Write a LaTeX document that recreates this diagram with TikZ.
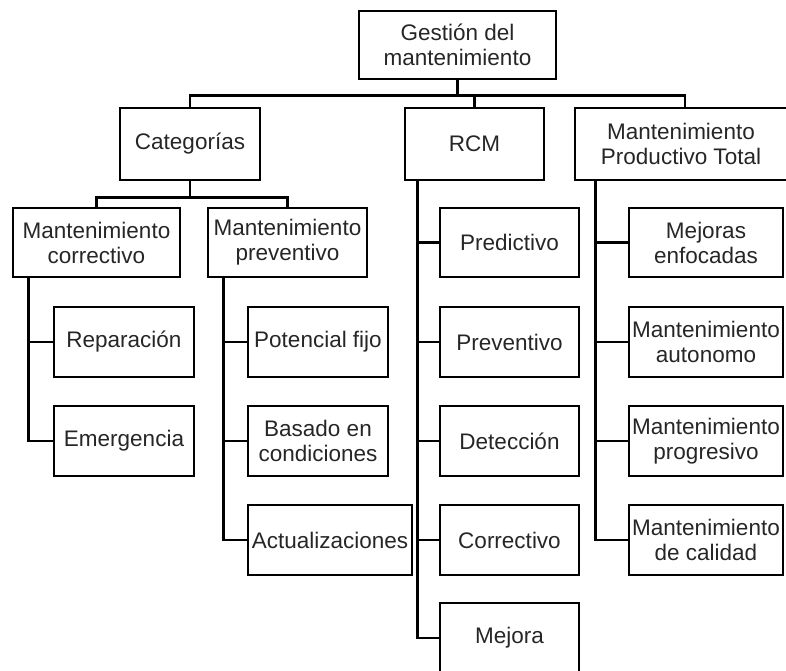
\documentclass[tikz,border=0pt]{standalone}
\usepackage{fontspec}
\setmainfont{Liberation Sans}
\begin{document}
\begin{tikzpicture}[x=1pt,y=-1pt,
  box/.style={draw=black, line width=2.8pt, inner sep=0pt, align=center,
    font=\fontsize{22.5}{25}\selectfont, text=black!85},
  link/.style={draw=black, line width=2.8pt, line cap=rect}]
\useasboundingbox (0,0) rectangle (786,671);
% root
\node[box, minimum width=197, minimum height=68] (top) at (457.5,45) {Gestión del\\mantenimiento};
% second level
\node[box, minimum width=140, minimum height=72] (cat) at (190,144) {Categorías};
\node[box, minimum width=139, minimum height=72] (rcm) at (474.5,144) {RCM};
\node[box, minimum width=212, minimum height=72] (mpt) at (681,144) {Mantenimiento\\Productivo Total};
% categories
\node[box, minimum width=167, minimum height=69] (mc) at (96.5,242.5) {Mantenimiento\\correctivo};
\node[box, minimum width=159, minimum height=69] (mp) at (287.5,242.5) {Mantenimiento\\preventivo};
\node[box, minimum width=140, minimum height=70] (rep) at (124,342) {Reparación};
\node[box, minimum width=140, minimum height=70] (eme) at (124,441) {Emergencia};
\node[box, minimum width=140, minimum height=70] (pf) at (318,342) {Potencial fijo};
\node[box, minimum width=140, minimum height=70] (bc) at (318,441) {Basado en\\condiciones};
\node[box, minimum width=164, minimum height=70] (act) at (330,540) {Actualizaciones};
% RCM
\node[box, minimum width=139, minimum height=69] (pred) at (509.5,242.5) {Predictivo};
\node[box, minimum width=139, minimum height=70] (prev) at (509.5,342) {Preventivo};
\node[box, minimum width=139, minimum height=70] (det) at (509.5,441) {Detección};
\node[box, minimum width=139, minimum height=70] (cor) at (509.5,540) {Correctivo};
\node[box, minimum width=139, minimum height=70] (mej) at (509.5,638) {Mejora};
% TPM
\node[box, minimum width=154, minimum height=69] (enf) at (706,242.5) {Mejoras\\enfocadas};
\node[box, minimum width=154, minimum height=70] (aut) at (706,342) {Mantenimiento\\autonomo};
\node[box, minimum width=154, minimum height=70] (pro) at (706,441) {Mantenimiento\\progresivo};
\node[box, minimum width=154, minimum height=70] (cal) at (706,540) {Mantenimiento\\de calidad};
% root bus
\draw[link] (top.south) -- ++(0,15) -| (cat.north);
\draw[link] (top.south) -- ++(0,15) -| (rcm.north);
\draw[link] (top.south) -- ++(0,15) -| ([xshift=4pt]mpt.north);
% categories bus
\draw[link] (cat.south) -- ++(0,16) -| (mc.north);
\draw[link] (cat.south) -- ++(0,16) -| (mp.north);
% side trunks
\draw[link] ([xshift=17pt]mc.south west) |- (rep.west);
\draw[link] ([xshift=17pt]mc.south west) |- (eme.west);
\draw[link] ([xshift=17pt]mp.south west) |- (pf.west);
\draw[link] ([xshift=17pt]mp.south west) |- (bc.west);
\draw[link] ([xshift=17pt]mp.south west) |- (act.west);
\draw[link] ([xshift=14pt]rcm.south west) |- (pred.west);
\draw[link] ([xshift=14pt]rcm.south west) |- (prev.west);
\draw[link] ([xshift=14pt]rcm.south west) |- (det.west);
\draw[link] ([xshift=14pt]rcm.south west) |- (cor.west);
\draw[link] ([xshift=14pt]rcm.south west) |- (mej.west);
\draw[link] ([xshift=22pt]mpt.south west) |- (enf.west);
\draw[link] ([xshift=22pt]mpt.south west) |- (aut.west);
\draw[link] ([xshift=22pt]mpt.south west) |- (pro.west);
\draw[link] ([xshift=22pt]mpt.south west) |- (cal.west);
\end{tikzpicture}
\end{document}
